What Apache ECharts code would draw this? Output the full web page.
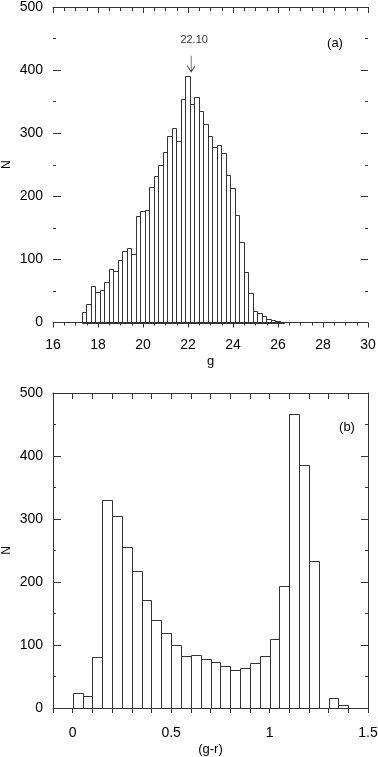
<!DOCTYPE html>
<html>
<head>
<meta charset="utf-8">
<script src="https://cdn.jsdelivr.net/npm/echarts@6/dist/echarts.min.js"></script>
<style>
  html, body { margin: 0; padding: 0; background: #fff; }
  #chart { width: 378px; height: 757px; }
</style>
</head>
<body>
<div id="chart"></div>
<script>
// (a) g magnitude histogram, bins of 0.2
var gLeft = [17.28, 17.48, 17.68, 17.88, 18.08, 18.28, 18.48, 18.68, 18.88, 19.08,
             19.28, 19.48, 19.68, 19.88, 20.08, 20.28, 20.48, 20.68, 20.88, 21.08,
             21.28, 21.48, 21.68, 21.88, 22.08, 22.28, 22.48, 22.68, 22.88, 23.08,
             23.28, 23.48, 23.68, 23.88, 24.08, 24.28, 24.48, 24.68, 24.88, 25.08,
             25.28, 25.48, 25.68, 25.88, 26.08];
var gCount = [16, 30, 58, 48, 51, 64, 84, 82, 99, 114,
              118, 108, 169, 176, 179, 214, 232, 250, 270, 295,
              308, 288, 354, 391, 347, 357, 335, 314, 295, 278,
              282, 268, 233, 213, 170, 127, 80, 46, 19, 15,
              11, 6, 4, 2, 1];
var gBinWidth = 0.2;

// (b) g-r colour histogram, bins of 0.05
var grLeft = [0, 0.05, 0.1, 0.15, 0.2, 0.25, 0.3, 0.35, 0.4, 0.45,
              0.5, 0.55, 0.6, 0.65, 0.7, 0.75, 0.8, 0.85, 0.9, 0.95,
              1.0, 1.05, 1.1, 1.15, 1.2, 1.25, 1.3, 1.35];
var grCount = [24, 19, 81, 330, 305, 256, 217, 172, 140, 119,
               100, 83, 84, 78, 73, 67, 60, 64, 72, 83,
               110, 194, 466, 385, 233, 0, 16, 5];
var grBinWidth = 0.05;

// peak marker in (a)
var peakText = '22.10';
var peakArrow = [22.14, 410];

var lineCol = '#333';
var textCol = '#000';
var fontFam = '"Liberation Sans", Arial, sans-serif';

function bins(left, count, w) {
    return left.map(function (x, i) {
        return [x, x + w, count[i]];
    });
}

function renderBin(params, api) {
    var n = api.value(2);
    if (!n) return null;
    var p0 = api.coord([api.value(0), n]);
    var p1 = api.coord([api.value(1), 0]);
    var x0 = Math.round(p0[0]), y0 = Math.round(p0[1]);
    var x1 = Math.round(p1[0]), y1 = Math.round(p1[1]);
    return {
        type: 'rect',
        shape: { x: x0 + 0.5, y: y0 + 0.5, width: x1 - x0, height: y1 - y0 },
        style: { fill: 'none', stroke: lineCol, lineWidth: 1 }
    };
}

var tickStyle = { color: lineCol, width: 1 };
var labelStyle = { color: textCol, fontSize: 14, fontFamily: fontFam };

function yAxes(grid, showLine) {
    return [{
        gridIndex: grid, type: 'value', min: 0, max: 500, interval: 100,
        name: 'N', nameLocation: 'middle', nameGap: 40, nameMoveOverlap: false,
        nameTextStyle: { color: textCol, fontSize: 12, fontFamily: fontFam },
        axisLine: { show: showLine, onZero: false, lineStyle: tickStyle },
        axisTick: { inside: true, length: 8, lineStyle: tickStyle },
        minorTick: { show: true, splitNumber: 2, length: 3, lineStyle: tickStyle },
        axisLabel: Object.assign({ margin: 10 }, labelStyle),
        splitLine: { show: false }
    }, {
        gridIndex: grid, type: 'value', position: 'right', min: 0, max: 500, interval: 100,
        axisLine: { show: showLine, onZero: false, lineStyle: tickStyle },
        axisTick: { inside: true, length: 7, lineStyle: tickStyle },
        minorTick: { show: true, splitNumber: 2, length: 3, lineStyle: tickStyle },
        axisLabel: { show: false },
        splitLine: { show: false }
    }];
}

var chart = echarts.init(document.getElementById('chart'));

var option = {
    animation: false,
    backgroundColor: '#fff',
    grid: [
        { left: 53, top: 7, width: 315, height: 315.5, containLabel: false, outerBoundsMode: 'none' },
        { left: 53, top: 393, width: 315, height: 315, containLabel: false, outerBoundsMode: 'none' }
    ],
    xAxis: [{
        gridIndex: 0, type: 'value', min: 16, max: 30, interval: 2,
        name: 'g', nameLocation: 'middle', nameGap: 32, nameMoveOverlap: false,
        nameTextStyle: { color: textCol, fontSize: 13, fontFamily: fontFam },
        axisLine: { onZero: false, lineStyle: tickStyle },
        axisTick: { length: 5, lineStyle: tickStyle },
        minorTick: { show: true, splitNumber: 4, length: 3, lineStyle: tickStyle },
        axisLabel: Object.assign({ margin: 16 }, labelStyle),
        splitLine: { show: false }
    }, {
        gridIndex: 0, type: 'value', position: 'top', min: 16, max: 30, interval: 2,
        axisLine: { onZero: false, lineStyle: tickStyle },
        axisTick: { inside: true, length: 6, lineStyle: tickStyle },
        minorTick: { show: true, splitNumber: 4, length: 4, lineStyle: tickStyle },
        axisLabel: { show: false },
        splitLine: { show: false }
    }, {
        gridIndex: 1, type: 'value', min: -0.1, max: 1.5, interval: 0.1,
        name: '(g-r)', nameLocation: 'middle', nameGap: 35, nameMoveOverlap: false,
        nameTextStyle: { color: textCol, fontSize: 13, fontFamily: fontFam },
        axisLine: { onZero: false, lineStyle: tickStyle },
        axisTick: { length: 5, lineStyle: tickStyle },
        axisLabel: Object.assign({
            margin: 18,
            formatter: function (v) {
                var r = Math.round(v * 10) / 10;
                return Math.abs(r * 2 - Math.round(r * 2)) < 1e-6 ? String(r) : '';
            }
        }, labelStyle),
        splitLine: { show: false }
    }, {
        gridIndex: 1, type: 'value', position: 'top', min: -0.1, max: 1.5, interval: 0.1,
        axisLine: { onZero: false, lineStyle: tickStyle },
        axisTick: { inside: true, length: 6, lineStyle: tickStyle },
        axisLabel: { show: false },
        splitLine: { show: false }
    }],
    yAxis: yAxes(0, false).concat(yAxes(1, true)),
    series: [{
        type: 'custom',
        xAxisIndex: 0, yAxisIndex: 0,
        renderItem: renderBin,
        encode: { x: [0, 1], y: 2 },
        data: bins(gLeft, gCount, gBinWidth)
    }, {
        type: 'scatter',
        xAxisIndex: 0, yAxisIndex: 0,
        symbol: 'path://M4,0L4,16M0,10L4,16L8,10',
        symbolSize: [8, 16],
        itemStyle: { color: 'rgba(0,0,0,0)', borderColor: '#111', borderWidth: 1 },
        label: {
            show: true, position: 'top', distance: 10, offset: [3, 0],
            formatter: peakText, color: textCol, fontSize: 11, fontFamily: fontFam
        },
        data: [peakArrow]
    }, {
        type: 'custom',
        xAxisIndex: 2, yAxisIndex: 2,
        renderItem: renderBin,
        encode: { x: [0, 1], y: 2 },
        data: bins(grLeft, grCount, grBinWidth)
    }],
    graphic: [
        { type: 'text', x: 335, y: 43, style: { text: '(a)', fill: textCol, font: '13px ' + fontFam, textAlign: 'center', textVerticalAlign: 'middle' } },
        { type: 'text', x: 347, y: 427, style: { text: '(b)', fill: textCol, font: '13px ' + fontFam, textAlign: 'center', textVerticalAlign: 'middle' } }
    ]
};

chart.setOption(option);
</script>
</body>
</html>
